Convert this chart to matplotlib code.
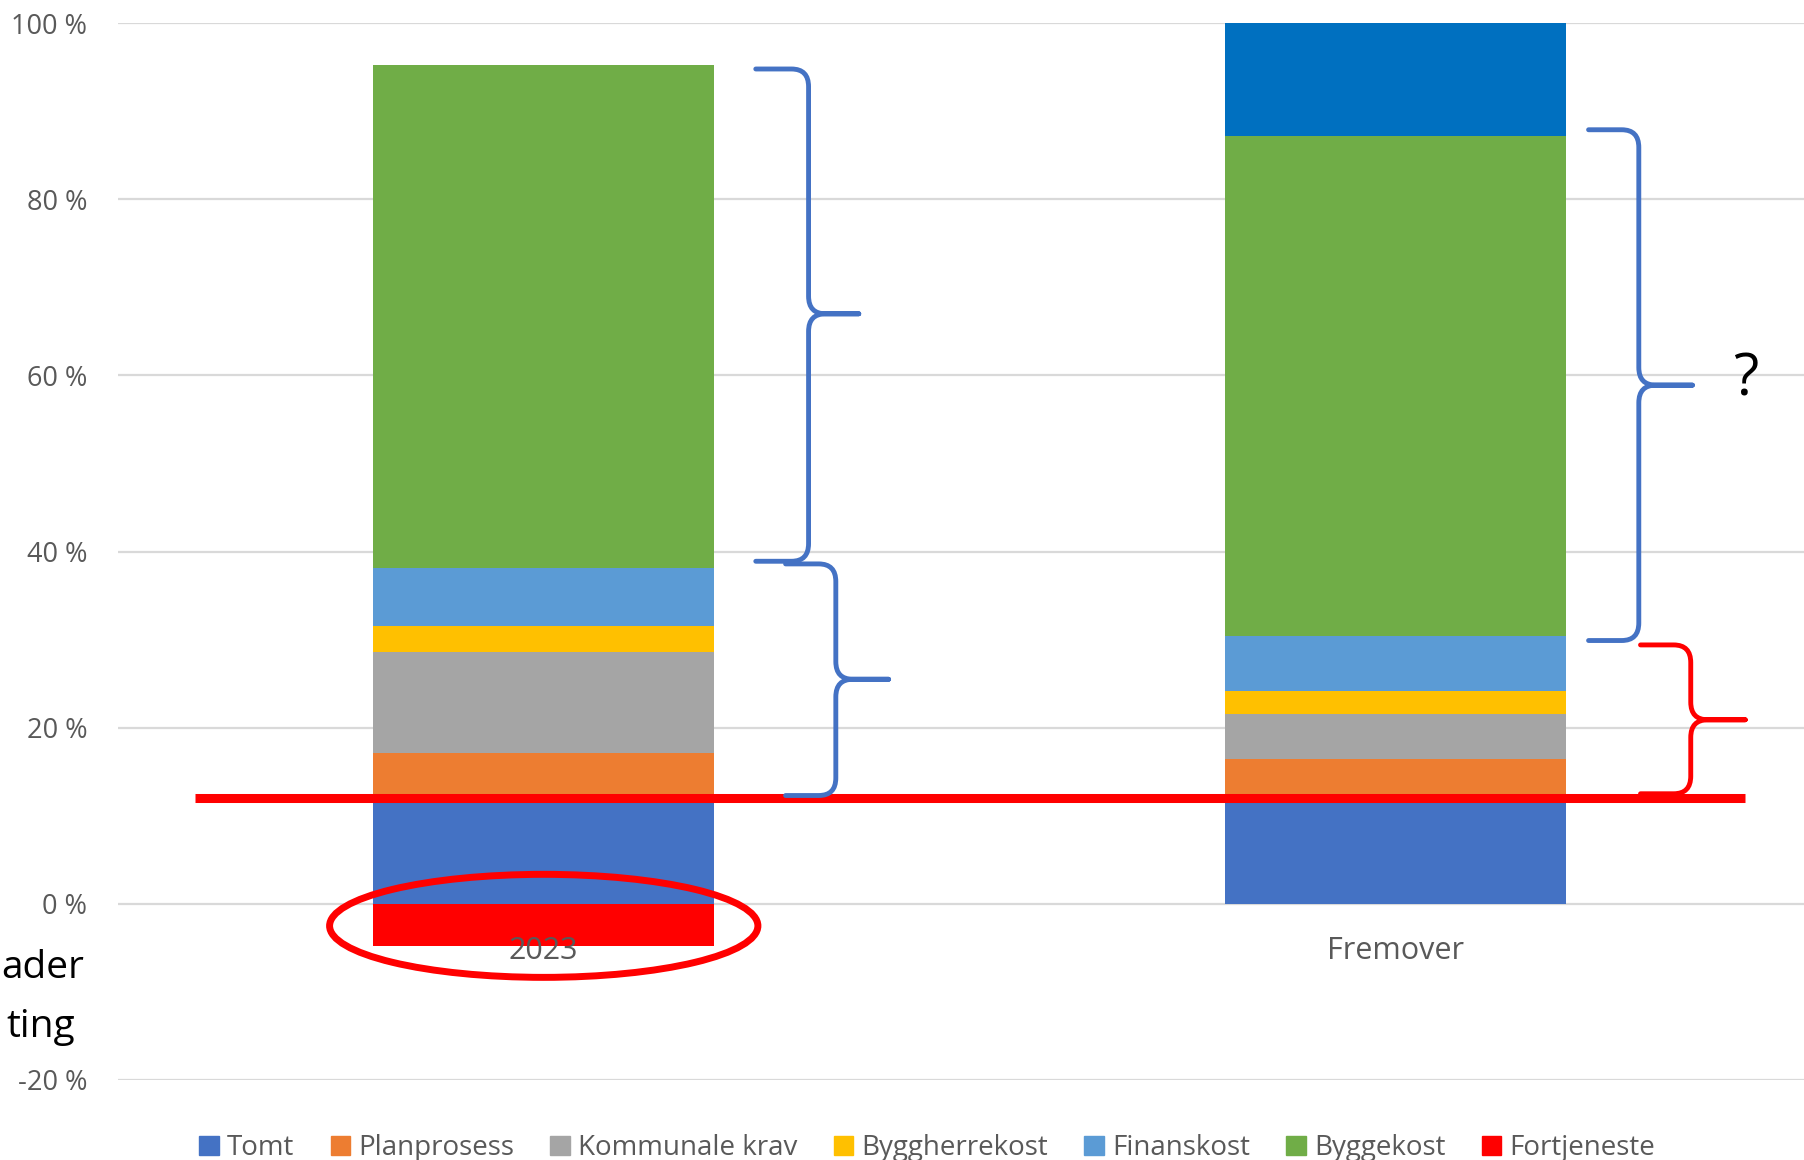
import numpy as np
import matplotlib
matplotlib.use("Agg")
import matplotlib.pyplot as plt
from matplotlib.path import Path
from matplotlib.patches import PathPatch, Ellipse, Patch

plt.rcParams['font.family'] = ['Open Sans', 'DejaVu Sans']

# -----------------------------
# DATA
# -----------------------------
kategorier = ["2023", "Fremover"]
serier = ["Tomt", "Planprosess", "Kommunale krav", "Byggherrekost",
          "Finanskost", "Byggekost", "Fortjeneste"]
tomt = [12.0, 12.0]
planprosess = [5.1, 4.4]
kommunale_krav = [11.5, 5.1]
byggherrekost = [2.9, 2.7]
finanskost = [6.6, 6.2]
byggekost = [57.1, 56.8]
fortjeneste = [-4.8, 12.8]

farger = ["#4472C4", "#ED7D31", "#A5A5A5", "#FFC000", "#5B9BD5", "#70AD47", "#FF0000"]
fortjeneste_farger = ["#FF0000", "#0070C0"]

y_ticks = [-20, 0, 20, 40, 60, 80, 100]
strek_niva = 12  # rød linje

# -----------------------------
# KRØLLPARENTES
# -----------------------------
def klamme(ax, x0, xs, xt, ytop, ymid, ybot, farge, rx=0.02, ry=2.0):
    verts = [(x0, ytop), (xs - rx, ytop), (xs, ytop), (xs, ytop - ry),
             (xs, ymid + ry), (xs, ymid), (xs + rx, ymid), (xt, ymid),
             (xs + rx, ymid), (xs, ymid), (xs, ymid - ry),
             (xs, ybot + ry), (xs, ybot), (xs - rx, ybot), (x0, ybot)]
    codes = [Path.MOVETO, Path.LINETO, Path.CURVE3, Path.CURVE3,
             Path.LINETO, Path.CURVE3, Path.CURVE3, Path.LINETO,
             Path.LINETO, Path.CURVE3, Path.CURVE3,
             Path.LINETO, Path.CURVE3, Path.CURVE3, Path.LINETO]
    ax.add_patch(PathPatch(Path(verts, codes), fill=False, edgecolor=farge,
                           linewidth=3.5, capstyle='round', joinstyle='round',
                           zorder=5, clip_on=False))

# -----------------------------
# GRAF
# -----------------------------
fig = plt.figure(figsize=(18.04, 11.6), dpi=100)
ax = fig.add_axes([0.0654, 0.069, 0.9346, 0.911])

x = np.arange(len(kategorier))
bredde = 0.4
verdier = [tomt, planprosess, kommunale_krav, byggherrekost, finanskost, byggekost]
bunn = np.zeros(len(kategorier))
for navn, v, f in zip(serier[:-1], verdier, farger[:-1]):
    ax.bar(x, v, bredde, bottom=bunn, color=f, zorder=2)
    bunn = bunn + np.array(v)

# fortjeneste: negativ stabler fra 0, positiv på toppen
fort = np.array(fortjeneste)
fort_bunn = np.where(fort < 0, 0, bunn)
ax.bar(x, fort, bredde, bottom=fort_bunn, color=fortjeneste_farger, zorder=2)

ax.set_xlim(-0.5, 1.48)
ax.set_ylim(-20, 100)
ax.set_yticks(y_ticks)
ax.set_yticklabels([f"{t} %" for t in y_ticks], fontsize=19.5, color="#595959")
ax.set_xticks([])
for i, k in enumerate(kategorier):
    ax.text(x[i], -5.3, k, ha='center', va='center', fontsize=22, color="#595959", zorder=6)
ax.tick_params(axis='y', length=0, pad=22)
ax.grid(axis='y', color="#D9D9D9", linewidth=1.6, zorder=0)
for s in ax.spines.values():
    s.set_visible(False)

# rød horisontal linje
ax.plot([-0.409, 1.411], [strek_niva, strek_niva], color="#FF0000", linewidth=6.5,
        zorder=4, solid_capstyle='butt')

# ellipse rundt 2023
ax.add_patch(Ellipse((0, -2.5), 0.503, 11.7, fill=False, edgecolor="#FF0000",
                     linewidth=5, zorder=5, clip_on=False))

# klammer
klamme(ax, 0.249, 0.311, 0.370, 94.8, 67.0, 38.9, "#4472C4")
klamme(ax, 0.284, 0.343, 0.405, 38.6, 25.5, 12.3, "#4472C4")
klamme(ax, 1.227, 1.286, 1.349, 87.9, 58.9, 29.9, "#4472C4")
klamme(ax, 1.288, 1.347, 1.411, 29.4, 20.9, 12.5, "#FF0000")

ax.text(1.412, 59.5, "?", ha='center', va='center', fontsize=42, color="black")

# avkuttet tekst til venstre
fig.text(84 / 1804, 1 - 968 / 1160, "ader", ha='right', va='center', fontsize=28, color="black")
fig.text(75 / 1804, 1 - 1027 / 1160, "ting", ha='right', va='center', fontsize=28, color="black")

# tegnforklaring
handles = [Patch(color=f) for f in farger]
fig.legend(handles, serier, loc='center', bbox_to_anchor=(0.514, 0.010), ncol=7,
           frameon=False, fontsize=20, handlelength=0.7, handleheight=0.7,
           handletextpad=0.3, columnspacing=1.3, labelcolor="#595959")

plt.savefig("out.png", dpi=100)
